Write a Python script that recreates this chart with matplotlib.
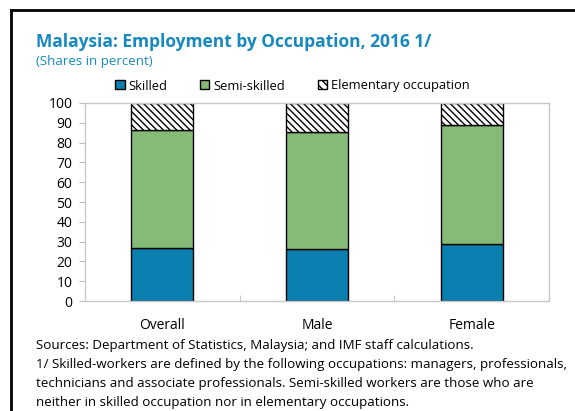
import matplotlib
matplotlib.use("Agg")
import matplotlib.pyplot as plt
from matplotlib.lines import Line2D
from matplotlib.patches import Patch
import numpy as np

plt.rcParams['font.family'] = ['Open Sans', 'DejaVu Sans']
plt.rcParams['hatch.linewidth'] = 1.0

# data (shares in percent)
groups = ["Overall", "Male", "Female"]
skilled = [27.0, 26.1, 28.7]
semi_skilled = [59.6, 59.2, 60.3]
elementary = [13.4, 14.7, 11.0]

blue = "#0b7fb0"
green = "#86ba77"
title_col = "#1789bf"
hatch = "\\" * 5

fig = plt.figure(figsize=(5.75, 4.11), dpi=100)
ax = fig.add_axes([85/575, 1 - 301/411, 464/575, 198/411])

x = np.arange(len(groups))
w = 0.4
b2 = np.array(skilled)
b3 = b2 + np.array(semi_skilled)
ax.bar(x, skilled, w, color=blue, edgecolor="black", linewidth=1.0, label="Skilled")
ax.bar(x, semi_skilled, w, bottom=b2, color=green, edgecolor="black", linewidth=1.0,
       label="Semi-skilled")
ax.bar(x, elementary, w, bottom=b3, color="white", edgecolor="black", hatch=hatch,
       linewidth=1.0, label="Elementary occupation")

ax.set_xlim(-0.5, 2.5)
ax.set_ylim(0, 100)
ax.set_yticks(range(0, 101, 10))
ax.set_xticks(x)
ax.set_xticklabels(groups, fontsize=10)
ax.set_xticks([0.5, 1.5], minor=True)
ax.tick_params(axis="x", which="major", length=0, pad=12)
ax.tick_params(axis="x", which="minor", direction="in", length=4, color="#bbbbbb")
ax.tick_params(axis="y", length=4, color="#bbbbbb", labelsize=10, pad=5)
for s in ax.spines.values():
    s.set_color("#c8c8c8")
    s.set_linewidth(1.0)

handles = [Patch(facecolor=blue, edgecolor="black"),
           Patch(facecolor=green, edgecolor="black"),
           Patch(facecolor="white", edgecolor="black", hatch="\\" * 4)]
fig.legend(handles, ["Skilled", "Semi-skilled", "Elementary occupation"],
           loc="center left", bbox_to_anchor=(109/575, 1 - 86/411), ncol=3,
           frameon=False, fontsize=9.3, handlelength=0.7, handleheight=0.7,
           handletextpad=0.3, columnspacing=2.55, borderpad=0)

fig.text(36/575, 1 - 42/411, "Malaysia: Employment by Occupation, 2016 1/",
         fontsize=12.5, fontweight="bold", color=title_col, va="center")
fig.text(36/575, 1 - 61/411, "(Shares in percent)", fontsize=9.5,
         color=title_col, va="center")

notes = ["Sources: Department of Statistics, Malaysia; and IMF staff calculations.",
         "1/ Skilled-workers are defined by the following occupations: managers, professionals,",
         "technicians and associate professionals. Semi-skilled workers are those who are",
         "neither in skilled occupation nor in elementary occupations."]
for i, line in enumerate(notes):
    fig.text(36/575, 1 - (345 + i*19.3)/411, line, fontsize=9.6, va="center", color="black")

# frame around the panel (top and left edges)
fig.add_artist(Line2D([11/575, 11/575], [0, 1 - 10/411], transform=fig.transFigure,
                      color="black", linewidth=2))
fig.add_artist(Line2D([11/575, 1], [1 - 10/411, 1 - 10/411], transform=fig.transFigure,
                      color="black", linewidth=2))

fig.savefig("out.png", dpi=100)
